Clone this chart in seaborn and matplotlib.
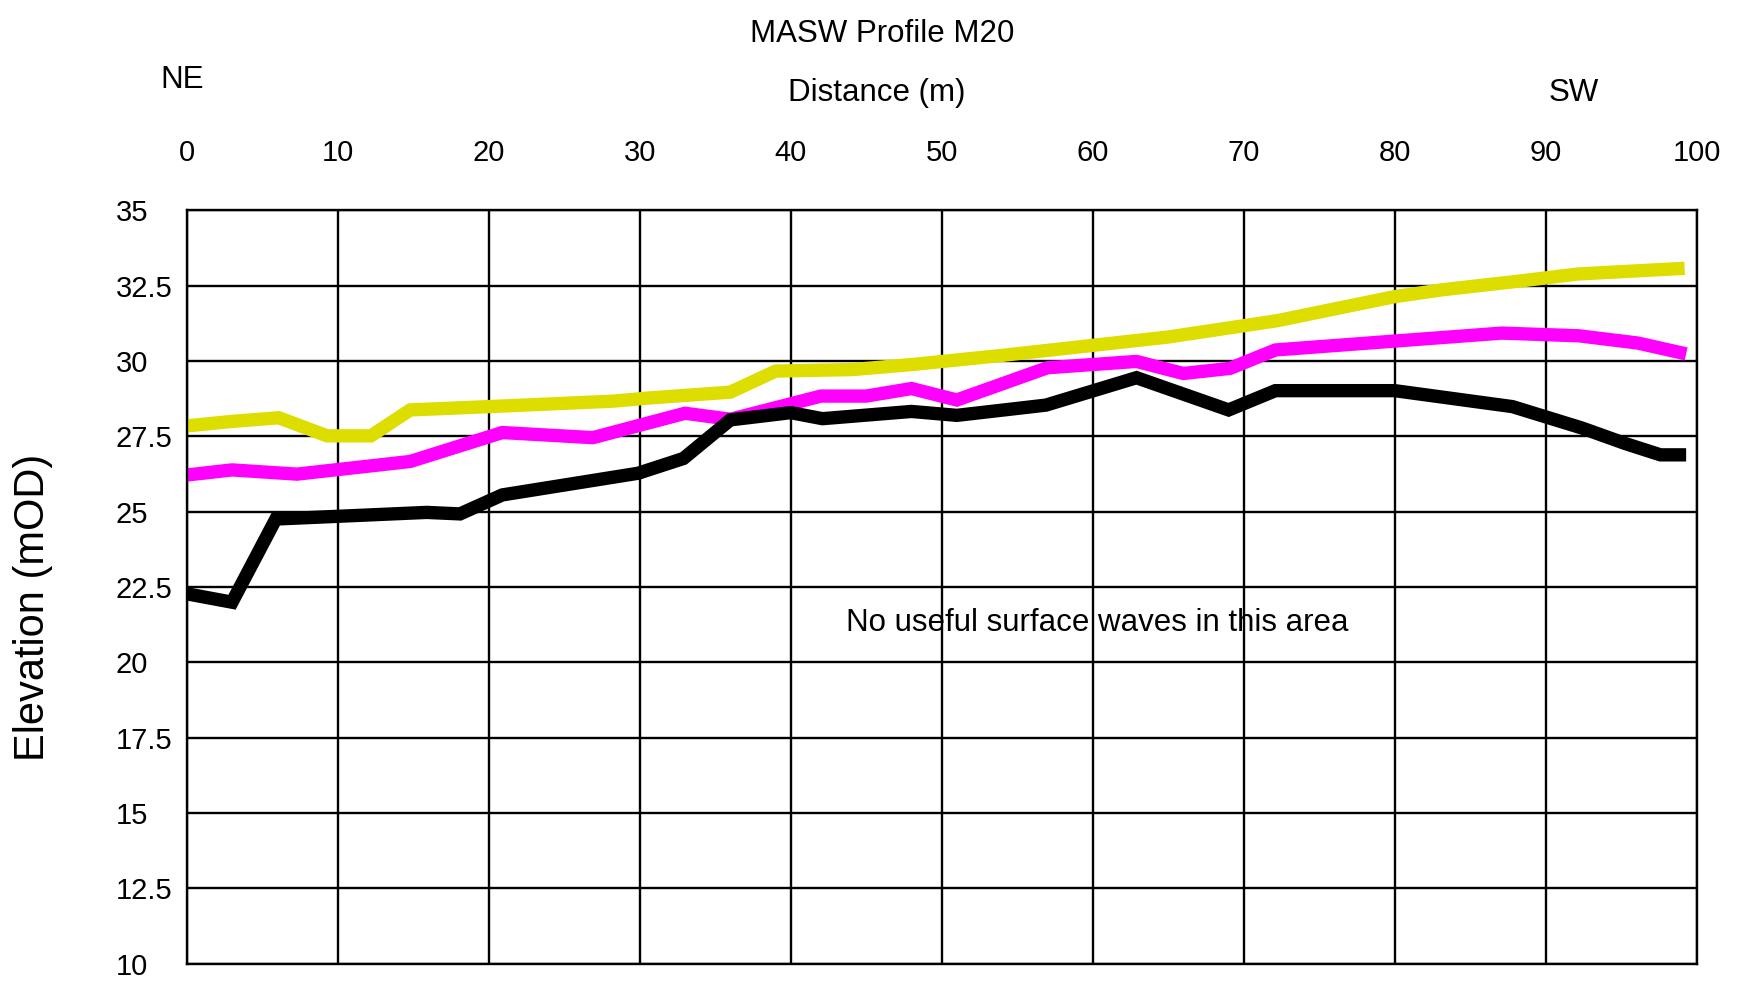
import matplotlib
matplotlib.use("Agg")
import matplotlib.pyplot as plt
import seaborn as sns
import pandas as pd

# MASW profile M20 - interpreted layer surfaces (elevation mOD vs distance m)
dist_top = [0, 3.0, 6.1, 9.3, 12.2, 14.8, 20.9, 28.2, 30.7, 36.0, 39.0, 44.1,
            48.1, 54.0, 65.0, 72.2, 80.0, 83.2, 88.5, 92.1, 99.2]
elev_top = [27.85, 28.0, 28.12, 27.52, 27.52, 28.38, 28.51, 28.67, 28.78, 28.97,
            29.67, 29.72, 29.89, 30.19, 30.8, 31.34, 32.14, 32.37, 32.67, 32.89, 33.08]

dist_mid = [0, 3.0, 7.3, 14.8, 20.9, 26.9, 33.0, 36.0, 42.0, 45.0, 48.0, 51.0,
            57.0, 62.9, 66.0, 69.1, 72.1, 87.1, 92.2, 96.1, 99.3]
elev_mid = [26.22, 26.39, 26.25, 26.67, 27.63, 27.46, 28.27, 28.07, 28.84, 28.84,
            29.09, 28.71, 29.78, 29.99, 29.59, 29.76, 30.37, 30.93, 30.84, 30.6, 30.24]

dist_low = [0, 3.0, 5.9, 15.9, 18.1, 20.9, 29.9, 32.9, 36.0, 40.0, 42.1, 48.0,
            51.0, 56.9, 62.9, 69.0, 72.1, 80.0, 87.8, 92.4, 95.3, 97.6, 99.3]
elev_low = [22.28, 22.0, 24.76, 24.98, 24.93, 25.56, 26.28, 26.77, 28.05, 28.29,
            28.09, 28.33, 28.2, 28.54, 29.45, 28.38, 29.02, 29.02, 28.49, 27.78,
            27.26, 26.89, 26.89]

x_ticks = [0, 10, 20, 30, 40, 50, 60, 70, 80, 90, 100]
y_ticks = [10, 12.5, 15, 17.5, 20, 22.5, 25, 27.5, 30, 32.5, 35]
y_labels = ["10", "12.5", "15", "17.5", "20", "22.5", "25", "27.5", "30", "32.5", "35"]

sns.set_style("white")
plt.rcParams["font.family"] = ["Liberation Sans", "DejaVu Sans"]
plt.rcParams["text.color"] = "black"
plt.rcParams["xtick.color"] = "black"
plt.rcParams["ytick.color"] = "black"

fig = plt.figure(figsize=(17.37, 9.82), dpi=100)
ax = fig.add_axes([0.1075, 0.0185, 0.8693, 0.7672])

series = [(dist_top, elev_top, "#DDDD00"),
          (dist_mid, elev_mid, "#FF00FF"),
          (dist_low, elev_low, "#000000")]
for d, e, c in series:
    df = pd.DataFrame({"dist": d, "elev": e})
    sns.lineplot(data=df, x="dist", y="elev", ax=ax, color=c, linewidth=9.6,
                 sort=False, estimator=None, solid_capstyle="butt",
                 solid_joinstyle="miter")

ax.set_xlim(0, 100)
ax.set_ylim(10, 35)
ax.set_xticks(x_ticks)
ax.set_yticks(y_ticks)
ax.set_yticklabels(y_labels)
ax.xaxis.tick_top()
ax.tick_params(axis="x", length=0, pad=31, labelsize=21, labelcolor="black")
ax.tick_params(axis="y", length=0, pad=51, labelsize=21, labelcolor="black")
for lab in ax.get_yticklabels():
    lab.set_horizontalalignment("left")
ax.grid(True, color="black", linewidth=1.7)
ax.set_axisbelow(True)
for sp in ax.spines.values():
    sp.set_color("black")
    sp.set_linewidth(1.7)
ax.set_xlabel("")
ax.set_ylabel("")

ax.text(60.3, 21.3, "No useful surface waves in this area", fontsize=22.5,
        ha="center", va="center", color="black")

fig.text(0.508, 0.9655, "MASW Profile M20", fontsize=22.5, ha="center", va="center")
fig.text(0.505, 0.9055, "Distance (m)", fontsize=22.5, ha="center", va="center")
fig.text(0.105, 0.919, "NE", fontsize=22.5, ha="center", va="center")
fig.text(0.906, 0.905, "SW", fontsize=22.5, ha="center", va="center")
fig.text(0.019, 0.382, "Elevation (mOD)", fontsize=30, rotation=90,
         ha="center", va="center")

fig.savefig("out.png", dpi=100)
